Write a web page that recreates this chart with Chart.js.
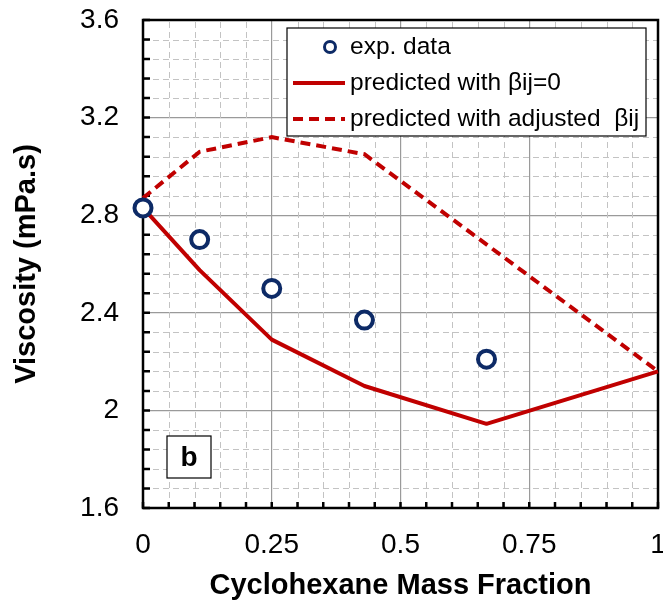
<!DOCTYPE html>
<html>
<head>
<meta charset="utf-8">
<title>Viscosity vs cyclohexane mass fraction</title>
<script src="https://cdn.jsdelivr.net/npm/chart.js@4.4.1/dist/chart.umd.min.js"></script>
<style>
  html, body { margin: 0; padding: 0; background: #fff; }
  #wrap { width: 663px; height: 605px; }
</style>
</head>
<body>
<div id="wrap"><canvas id="viscChart" width="663" height="605"></canvas></div>
<script>
// measured viscosities
const expFraction = [0, 0.11, 0.25, 0.43, 0.667];
const expViscosity = [2.83, 2.70, 2.50, 2.37, 2.21];

// model with beta_ij = 0
const predFraction = [0, 0.11, 0.25, 0.43, 0.667, 1];
const predViscosity = [2.83, 2.575, 2.29, 2.10, 1.945, 2.16];

// model with fitted beta_ij
const adjFraction = [0, 0.11, 0.25, 0.43, 1];
const adjViscosity = [2.87, 3.06, 3.12, 3.05, 2.16];

const xTicks = [0, 0.25, 0.5, 0.75, 1];
const yTicks = [1.6, 2, 2.4, 2.8, 3.2, 3.6];
const xMinorStep = 0.05;
const yMinorStep = 0.08;

const FONT = '"Liberation Sans", Arial, sans-serif';
const RED = '#c00000';
const NAVY = '#0d2a66';

function toPoints(xs, ys) {
    return xs.map((v, i) => ({ x: v, y: ys[i] }));
}

function minorValues(ticks, step) {
    const out = [];
    const lo = ticks[0], hi = ticks[ticks.length - 1];
    const n = Math.round((hi - lo) / step);
    for (let i = 0; i <= n; i++) out.push(lo + i * step);
    return out;
}

// dashed minor grid, black frame, inward tick marks, legend and panel tag
const frame = {
    id: 'frame',
    beforeDatasetsDraw(chart) {
        const { ctx, chartArea: a, scales: { x, y } } = chart;
        const mx = minorValues(xTicks, xMinorStep);
        const my = minorValues(yTicks, yMinorStep);
        ctx.save();
        ctx.strokeStyle = '#c3c3c3';
        ctx.lineWidth = 1;
        ctx.setLineDash([6, 4]);
        ctx.beginPath();
        mx.forEach((v, i) => {
            if (i % 5 === 0) return;
            const px = Math.round(x.getPixelForValue(v)) + 0.5;
            ctx.moveTo(px, a.bottom);
            ctx.lineTo(px, a.top);
        });
        my.forEach((v, i) => {
            if (i % 5 === 0) return;
            const py = Math.round(y.getPixelForValue(v)) + 0.5;
            ctx.moveTo(a.left, py);
            ctx.lineTo(a.right, py);
        });
        ctx.stroke();
        ctx.setLineDash([]);

        // tick marks pointing into the plot
        ctx.strokeStyle = '#000';
        ctx.lineWidth = 2.5;
        ctx.beginPath();
        mx.forEach(v => {
            const px = x.getPixelForValue(v);
            ctx.moveTo(px, a.bottom);
            ctx.lineTo(px, a.bottom - 6);
        });
        my.forEach(v => {
            const py = y.getPixelForValue(v);
            ctx.moveTo(a.left, py);
            ctx.lineTo(a.left + 7, py);
        });
        ctx.stroke();

        ctx.lineWidth = 2.5;
        ctx.strokeRect(a.left, a.top, a.right - a.left, a.bottom - a.top);
        ctx.restore();
    },
    afterDatasetsDraw(chart) {
        const { ctx } = chart;
        ctx.save();

        // legend box
        const lx = 287, ly = 28, lw = 359, lh = 108;
        ctx.fillStyle = '#fff';
        ctx.fillRect(lx, ly, lw, lh);
        ctx.strokeStyle = '#000';
        ctx.lineWidth = 1.2;
        ctx.strokeRect(lx, ly, lw, lh);
        ctx.font = '24.5px ' + FONT;
        ctx.textBaseline = 'middle';
        ctx.textAlign = 'left';
        chart.data.datasets.forEach((ds, i) => {
            const cy = ly + 19 + i * 36;
            if (ds.showLine === false) {
                ctx.beginPath();
                ctx.arc(lx + 43, cy, 5.5, 0, Math.PI * 2);
                ctx.fillStyle = '#fff';
                ctx.fill();
                ctx.strokeStyle = ds.borderColor;
                ctx.lineWidth = 3;
                ctx.stroke();
            } else {
                ctx.beginPath();
                ctx.setLineDash(ds.borderDash || []);
                ctx.strokeStyle = ds.borderColor;
                ctx.lineWidth = ds.borderWidth;
                ctx.moveTo(lx + 6, cy);
                ctx.lineTo(lx + 58, cy);
                ctx.stroke();
                ctx.setLineDash([]);
            }
            ctx.fillStyle = '#000';
            ctx.fillText(ds.label, lx + 63, cy);
        });

        // panel tag
        const bx = 167, by = 436, bw = 44, bh = 42;
        ctx.fillStyle = '#fff';
        ctx.fillRect(bx, by, bw, bh);
        ctx.strokeStyle = '#000';
        ctx.lineWidth = 1.2;
        ctx.strokeRect(bx, by, bw, bh);
        ctx.fillStyle = '#000';
        ctx.font = 'bold 28px ' + FONT;
        ctx.textAlign = 'center';
        ctx.fillText('b', bx + bw / 2, by + bh / 2 + 1);
        ctx.restore();
    }
};

new Chart(document.getElementById('viscChart'), {
    type: 'scatter',
    data: {
        datasets: [
            {
                label: 'exp. data',
                data: toPoints(expFraction, expViscosity),
                showLine: false,
                pointRadius: 8.5,
                pointBorderWidth: 4,
                pointBackgroundColor: '#fff',
                pointBorderColor: NAVY,
                borderColor: NAVY,
                clip: false
            },
            {
                label: 'predicted with βij=0',
                data: toPoints(predFraction, predViscosity),
                showLine: true,
                borderColor: RED,
                borderWidth: 4,
                pointRadius: 0,
                borderJoinStyle: 'round',
                clip: false
            },
            {
                label: 'predicted with adjusted  βij',
                data: toPoints(adjFraction, adjViscosity),
                showLine: true,
                borderColor: RED,
                borderWidth: 4,
                borderDash: [10, 6],
                pointRadius: 0,
                clip: false
            }
        ]
    },
    options: {
        responsive: false,
        animation: false,
        layout: { autoPadding: false, padding: { top: 20, right: 5, left: 0, bottom: 0 } },
        plugins: {
            legend: { display: false },
            tooltip: { enabled: false }
        },
        scales: {
            x: {
                type: 'linear',
                min: 0,
                max: 1,
                afterBuildTicks: s => { s.ticks = xTicks.map(v => ({ value: v })); },
                afterFit: s => {
                    s.height = 97;
                    s.paddingLeft = 0;
                    s.paddingRight = 0;
                },
                ticks: {
                    padding: 20,
                    color: '#000',
                    font: { family: FONT, size: 28 },
                    callback: v => String(v)
                },
                grid: { color: '#9a9a9a', lineWidth: 1.2, drawTicks: false },
                border: { display: false },
                title: {
                    display: true,
                    text: 'Cyclohexane Mass Fraction',
                    color: '#000',
                    font: { family: FONT, size: 29, weight: 'bold' },
                    padding: { top: 0, bottom: 2 }
                }
            },
            y: {
                type: 'linear',
                min: 1.6,
                max: 3.6,
                afterBuildTicks: s => { s.ticks = yTicks.map(v => ({ value: v })); },
                afterFit: s => {
                    s.width = 143;
                    s.paddingTop = 0;
                    s.paddingBottom = 0;
                },
                ticks: {
                    padding: 24,
                    color: '#000',
                    font: { family: FONT, size: 28 },
                    callback: v => String(v)
                },
                grid: { color: '#9a9a9a', lineWidth: 1.2, drawTicks: false },
                border: { display: false },
                title: {
                    display: true,
                    text: 'Viscosity (mPa.s)',
                    color: '#000',
                    font: { family: FONT, size: 29, weight: 'bold' },
                    padding: { top: 10, bottom: 0 }
                }
            }
        }
    },
    plugins: [frame]
});
</script>
</body>
</html>
